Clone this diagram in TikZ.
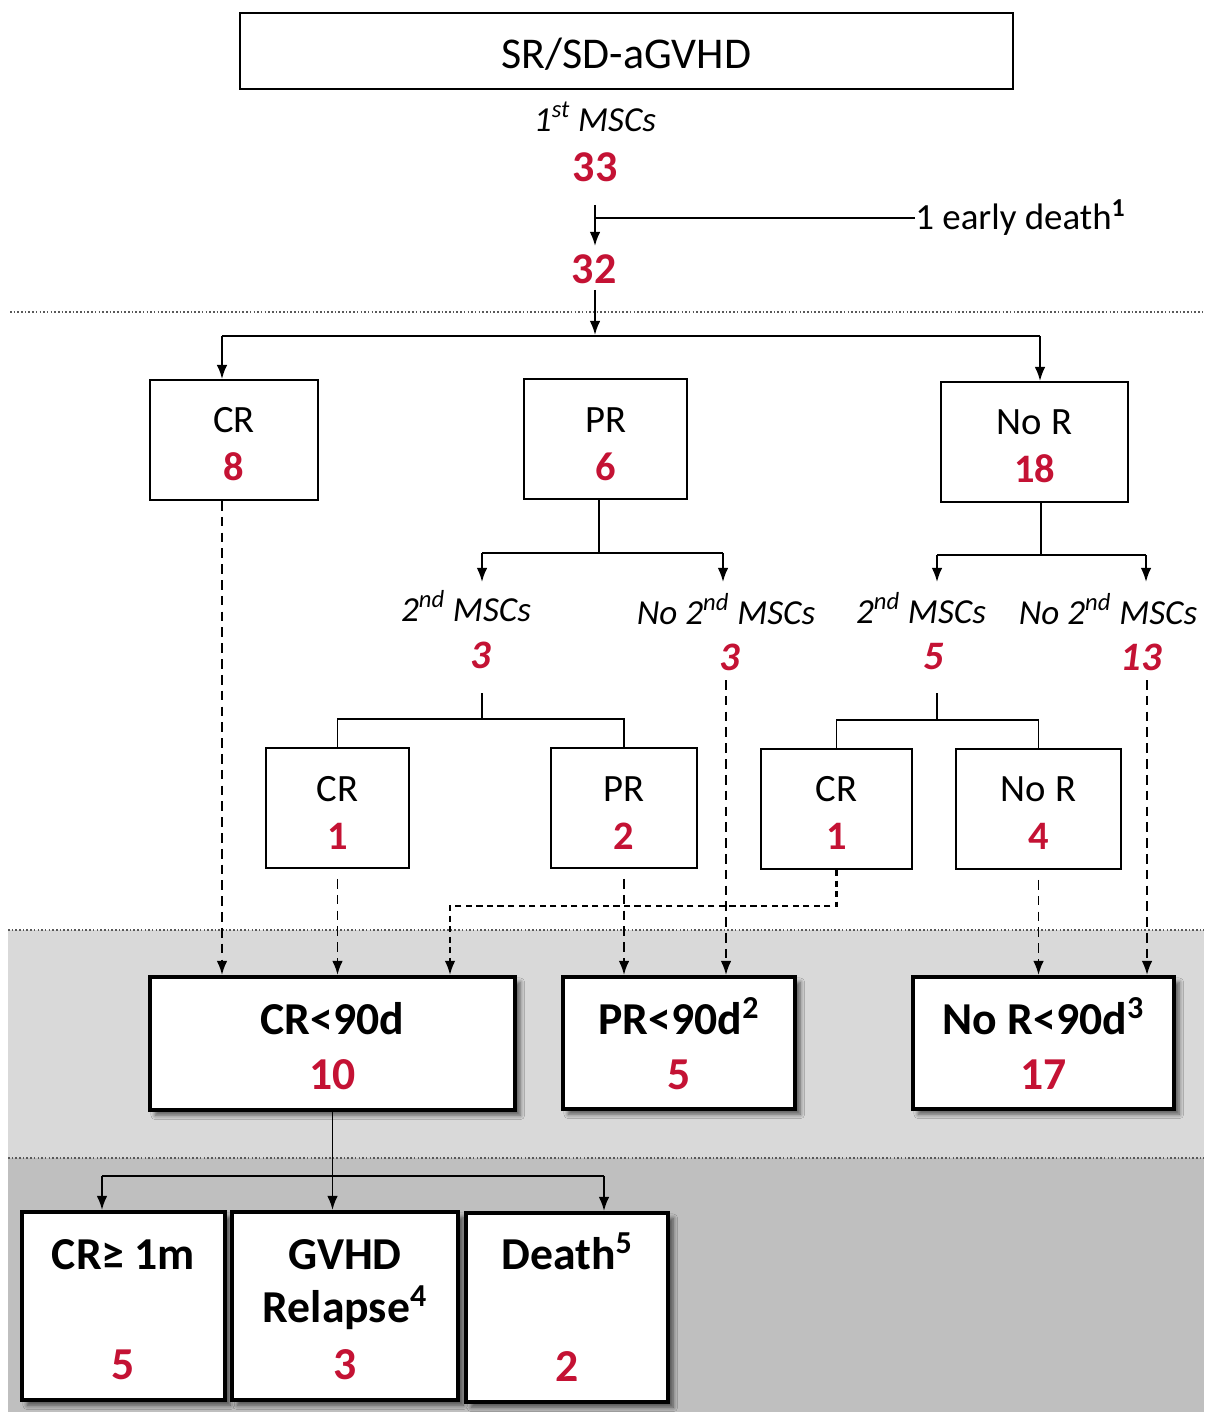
\documentclass[tikz,border=0pt]{standalone}
\usepackage{fontspec}
\setmainfont{Carlito}
\usetikzlibrary{arrows.meta,shadows.blur}
\definecolor{numred}{RGB}{196,18,52}
\definecolor{lgray}{RGB}{217,217,217}
\definecolor{dgray}{RGB}{191,191,191}
\tikzset{
  arr/.style={-{Latex[length=8pt,width=6pt]}, line width=1.1pt},
  conn/.style={line width=1.1pt},
  dsh/.style={-{Latex[length=8pt,width=6pt]}, line width=1.1pt, dash pattern=on 5.5pt off 3.5pt},
  dshf/.style={-{Latex[length=8pt,width=6pt]}, line width=1.2pt, dash pattern=on 3.5pt off 2.5pt},
  dotline/.style={line width=0.9pt, gray!70!black, dash pattern=on 0.9pt off 1.2pt},
  thinbox/.style={draw, line width=1.1pt, fill=white, inner sep=0},
  thickbox/.style={draw, line width=2.3pt, fill=white, inner sep=0,
    blur shadow={shadow xshift=3pt, shadow yshift=-3pt, shadow blur steps=6, shadow blur radius=2.5pt, shadow opacity=60}},
  ttl/.style={inner sep=0, text height=15.8pt, text depth=0pt, font=\fontsize{25}{30}\selectfont},
  itl/.style={inner sep=0, text height=12.6pt, text depth=0pt, font=\fontsize{20}{24}\selectfont\itshape},
  edt/.style={inner sep=0, text height=13.2pt, text depth=0pt, font=\fontsize{21}{25}\selectfont},
  lab/.style={inner sep=0, text height=13.9pt, text depth=0pt, font=\fontsize{22}{26}\selectfont},
  num/.style={inner sep=0, text height=14.5pt, text depth=0pt, text=numred, font=\fontsize{23}{27}\selectfont\bfseries},
  inum/.style={inner sep=0, text height=14.5pt, text depth=0pt, text=numred, font=\fontsize{23}{27}\selectfont\bfseries\itshape},
  bignum/.style={inner sep=0, text height=15.8pt, text depth=0pt, text=numred, font=\fontsize{25}{30}\selectfont\bfseries},
  big/.style={inner sep=0, text height=16.4pt, text depth=0pt, font=\fontsize{26}{31}\selectfont\bfseries},
  bnum/.style={inner sep=0, text height=16.4pt, text depth=0pt, text=numred, font=\fontsize{26}{31}\selectfont\bfseries},
}
\begin{document}
\begin{tikzpicture}[x=0.02cm,y=-0.02cm]
\useasboundingbox (0,0) rectangle (1204,1412);
\fill[white] (0,0) rectangle (1204,1412);
\fill[lgray] (8,930) rectangle (1204,1158);
\fill[dgray] (8,1158) rectangle (1204,1412);
\draw[dotline] (10,312) -- (1204,312);
\draw[dotline] (8,930) -- (1204,930);
\draw[dotline] (8,1158) -- (1204,1158);

% ---------- top ----------
\node[thinbox, minimum width=15.46cm, minimum height=1.52cm] (top) at (626.5,51) {};
\node[ttl] (toptxt) at (626.5,55) {SR/SD-aGVHD};
\node[itl] (m1) at (595,120) {1\textsuperscript{st} MSCs};
\node[bignum] (n33) at (595,168) {33};
\node[bignum] (n32) at (594,270) {32};
\node[edt, anchor=west] (ed) at (915,218) {1 early death\textsuperscript{\bfseries 1}};

% ---------- row 1 ----------
\node[thinbox, minimum width=3.36cm, minimum height=2.4cm] (cr1) at (234,440) {};
\node[lab] (cr1t) at (234,420) {CR};
\node[num] (cr1n) at (234,468) {8};
\node[thinbox, minimum width=3.26cm, minimum height=2.4cm] (pr1) at (605.5,439) {};
\node[lab] (pr1t) at (605.5,420) {PR};
\node[num] (pr1n) at (605.5,468) {6};
\node[thinbox, minimum width=3.74cm, minimum height=2.4cm] (nor1) at (1034.5,442) {};
\node[lab] (nor1t) at (1034.5,422) {No R};
\node[num] (nor1n) at (1034.5,470) {18};

% ---------- MSC labels ----------
\node[itl] (m2a) at (466,610) {2\textsuperscript{nd} MSCs};
\node[inum] (m2an) at (481,656) {3};
\node[itl] (m2b) at (726,613) {No 2\textsuperscript{nd} MSCs};
\node[inum] (m2bn) at (730,658) {3};
\node[itl] (m2c) at (921,612) {2\textsuperscript{nd} MSCs};
\node[inum] (m2cn) at (934,657) {5};
\node[itl] (m2d) at (1108,613) {No 2\textsuperscript{nd} MSCs};
\node[inum] (m2dn) at (1141,658) {13};

% ---------- row 2 ----------
\node[thinbox, minimum width=2.86cm, minimum height=2.4cm] (cr2a) at (337.5,808) {};
\node[lab] (cr2at) at (337.5,789) {CR};
\node[num] (cr2an) at (337.5,837) {1};
\node[thinbox, minimum width=2.92cm, minimum height=2.4cm] (pr2) at (624,808) {};
\node[lab] (pr2t) at (624,789) {PR};
\node[num] (pr2n) at (624,837) {2};
\node[thinbox, minimum width=3.02cm, minimum height=2.4cm] (cr2b) at (836.5,809) {};
\node[lab] (cr2bt) at (836.5,789) {CR};
\node[num] (cr2bn) at (836.5,837) {1};
\node[thinbox, minimum width=3.3cm, minimum height=2.4cm] (nor2) at (1038.5,809) {};
\node[lab] (nor2t) at (1038.5,789) {No R};
\node[num] (nor2n) at (1038.5,837) {4};

% ---------- row 3 ----------
\node[thickbox, minimum width=7.3cm, minimum height=2.66cm] (cr90) at (332.5,1043.5) {};
\node[big] (cr90t) at (332.5,1020) {CR<90d};
\node[bnum] (cr90n) at (332.5,1075) {10};
\node[thickbox, minimum width=4.64cm, minimum height=2.64cm] (pr90) at (679,1043) {};
\node[big] (pr90t) at (679,1020) {PR<90d\textsuperscript{2}};
\node[bnum] (pr90n) at (679,1075) {5};
\node[thickbox, minimum width=5.22cm, minimum height=2.64cm] (nor90) at (1043.5,1043) {};
\node[big] (nor90t) at (1043.5,1020) {No R<90d\textsuperscript{3}};
\node[bnum] (nor90n) at (1043.5,1075) {17};

% ---------- row 4 ----------
\node[thickbox, minimum width=4.06cm, minimum height=3.76cm] (crm) at (123.5,1306) {};
\node[big] (crmt) at (123.5,1255) {CR≥ 1m};
\node[bnum] (crmn) at (123.5,1365) {5};
\node[thickbox, minimum width=4.52cm, minimum height=3.76cm] (gv) at (345,1306) {};
\node[big] (gvt1) at (345,1255) {GVHD};
\node[big] (gvt2) at (345,1308) {Relapse\textsuperscript{4}};
\node[bnum] (gvn) at (345,1365) {3};
\node[thickbox, minimum width=4.04cm, minimum height=3.78cm] (de) at (567,1307.5) {};
\node[big] (det) at (567,1255) {Death\textsuperscript{5}};
\node[bnum] (den) at (567,1367) {2};

% ---------- connectors ----------
\coordinate (a0) at (595,205);
\coordinate (a1) at (595,246);
\draw[arr] (a0) -- (a1);
\draw[conn] (a0 |- ed) -- (ed.west);

\coordinate (b0) at (595,290);
\coordinate (b1) at (595,335);
\draw[arr] (b0) -- (b1);
\coordinate (hl) at (222,336);
\coordinate (hr) at (1040,336);
\draw[conn] (hl) -- (hr);
\draw[arr] (hl) -- (hl |- cr1.north);
\draw[arr] (hr) -- (hr |- nor1.north);

\coordinate (p0) at (599,553);
\coordinate (pl) at (482,553);
\coordinate (pr) at (723,553);
\draw[conn] (p0 |- pr1.south) -- (p0);
\draw[conn] (pl) -- (pr);
\draw[arr] (pl) -- ++(0,29);
\draw[arr] (pr) -- ++(0,29);

\coordinate (q0) at (1041,555);
\coordinate (ql) at (937,555);
\coordinate (qr) at (1146,555);
\draw[conn] (q0 |- nor1.south) -- (q0);
\draw[conn] (ql) -- (qr);
\draw[arr] (ql) -- ++(0,27);
\draw[arr] (qr) -- ++(0,27);

\coordinate (u0) at (482,693);
\draw[conn] (u0) -- ++(0,27);
\draw[conn] (cr2a.north) -- ++(0,-28) -| (pr2.north);
\coordinate (u1) at (937,693);
\draw[conn] (u1) -- ++(0,28);
\draw[conn] (cr2b.north) -- ++(0,-28) -| (nor2.north);

% dashed
\coordinate (cx1) at (222,0);
\draw[dsh] (cx1 |- cr1.south) -- (cx1 |- cr90.north);
\draw[dsh] ([yshift=-0.2cm]cr2a.south) -- (cr2a.south |- cr90.north);
\coordinate (t1) at (450,906);
\draw[dshf] (cr2b.south) |- (t1) -- (t1 |- cr90.north);
\draw[dsh] ([yshift=-0.2cm]pr2.south) -- (pr2.south |- pr90.north);
\coordinate (v1) at (726,680);
\draw[dsh] (v1) -- (v1 |- pr90.north);
\draw[dsh] ([yshift=-0.2cm]nor2.south) -- (nor2.south |- nor90.north);
\coordinate (v2) at (1147,680);
\draw[dsh] (v2) -- (v2 |- nor90.north);

% bottom split
\draw[arr] (cr90.south) -- (cr90.south |- gv.north);
\coordinate (w1) at (102,1176);
\coordinate (w2) at (604,1176);
\draw[conn] (w1) -- (w2);
\draw[arr] (w1) -- (w1 |- crm.north);
\draw[arr] (w2) -- (w2 |- de.north);
\end{tikzpicture}
\end{document}
